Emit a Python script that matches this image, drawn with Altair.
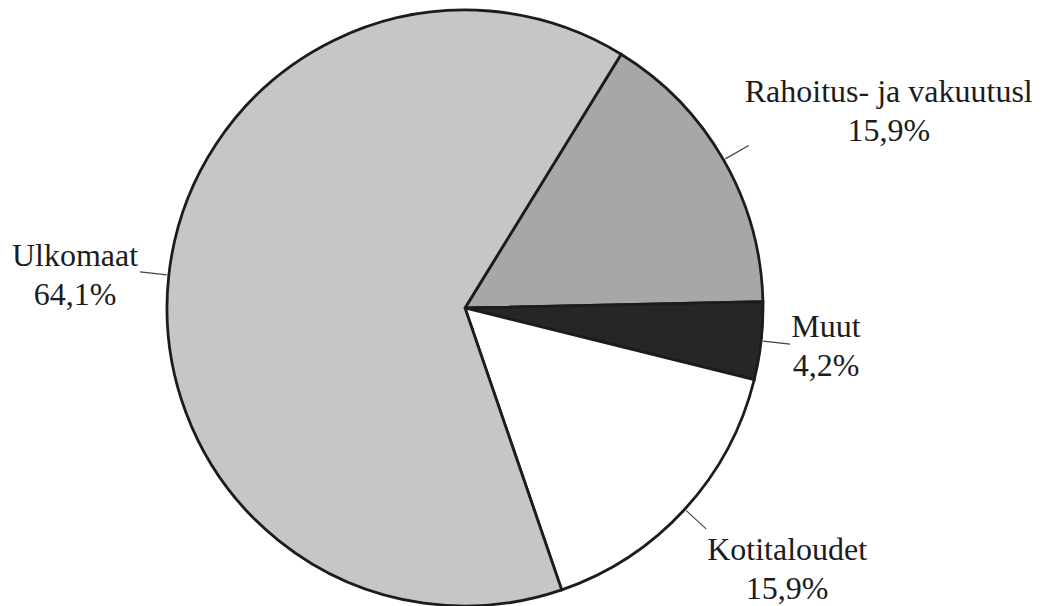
import math
import altair as alt
import pandas as pd

# ---- data ----
labels = ["Rahoitus- ja vakuutusl", "Muut", "Kotitaloudet", "Ulkomaat"]
values = [15.9, 4.2, 15.9, 64.1]

# ---- styles / layout ----
colors = ["#a7a7a7", "#262626", "#ffffff", "#c6c6c6"]
W, H = 914, 600                  # plot area; pie centred at (W/2, H/2)
CX, CY = W / 2, H / 2
R = 298                          # pie radius
R_LEAD_IN, R_LEAD_OUT = 300, 327 # leader line radii
START = math.radians(31.6)       # angle of first slice start (clockwise from 12 o'clock)
LINE_H = 39
# offset of each label block centre from its leader end (layout)
label_dx = [140, 36, 81, -65]
label_dy = [-34, 2.5, 41, 4]

total = sum(values)
rows = []
cum = 0.0
for i, (lab, v) in enumerate(zip(labels, values)):
    mid = START + (cum + v / 2) / total * 2 * math.pi
    cum += v
    s, c = math.sin(mid), math.cos(mid)
    x2 = CX + R_LEAD_OUT * s
    y2 = CY - R_LEAD_OUT * c
    pct = f"{v:.1f}".replace(".", ",") + "%"
    rows.append({
        "label": lab, "value": v, "order": i,
        "x1": CX + R_LEAD_IN * s, "y1": CY - R_LEAD_IN * c,
        "x2": x2, "y2": y2,
        "tx": x2 + label_dx[i], "ty": y2 + label_dy[i] - LINE_H / 2,
        "text": lab + "\n" + pct,
    })
df = pd.DataFrame(rows)

base = alt.Chart(df)

pie = base.mark_arc(outerRadius=R, stroke="#1c1c1c", strokeWidth=2.8).encode(
    theta=alt.Theta("value:Q", stack=True,
                    scale=alt.Scale(range=[START, START + 2 * math.pi])),
    order=alt.Order("order:Q"),
    color=alt.Color("label:N", scale=alt.Scale(domain=labels, range=colors), legend=None),
)

leaders = base.mark_rule(color="#444444", strokeWidth=1.2).encode(
    x=alt.X("x1:Q", scale=None, axis=None),
    y=alt.Y("y1:Q", scale=None, axis=None),
    x2="x2:Q",
    y2="y2:Q",
)

texts = base.mark_text(
    lineBreak="\n", align="center", baseline="middle", lineHeight=LINE_H,
    fontSize=32, font="Times New Roman, Liberation Serif, serif", color="#1c1c1c",
).encode(
    x=alt.X("tx:Q", scale=None, axis=None),
    y=alt.Y("ty:Q", scale=None, axis=None),
    text="text:N",
)

chart = alt.layer(pie, leaders, texts).properties(
    width=W, height=H,
    autosize=alt.AutoSizeParams(type="none"),
    padding={"left": 0, "top": 0, "right": 112, "bottom": 0},
).configure_view(stroke=None)

chart.save("out.html", embed_options={"renderer": "svg", "actions": False})
